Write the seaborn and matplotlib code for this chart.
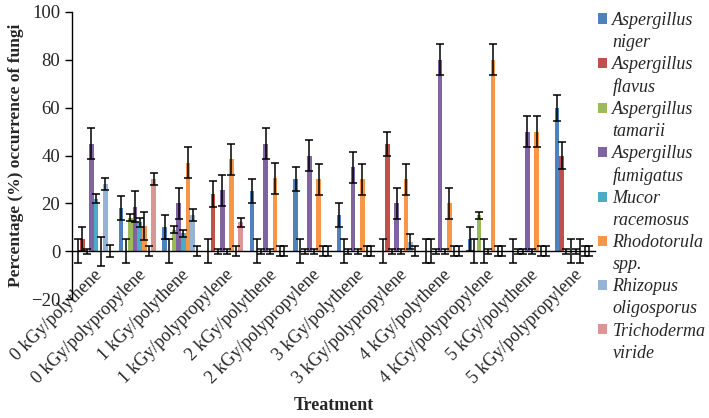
import numpy as np
import pandas as pd
import seaborn as sns
import matplotlib.pyplot as plt
from matplotlib.patches import Patch

treatments = ["0 kGy/polythene", "0 kGy/polypropylene", "1 kGy/polythene",
              "1 kGy/polypropylene", "2 kGy/polythene", "2 kGy/polypropylene",
              "3 kGy/polythene", "3 kGy/polypropylene", "4 kGy/polythene",
              "4 kGy/polypropylene", "5 kGy/polythene", "5 kGy/polypropylene"]

species = ["Aspergillus niger", "Aspergillus flavus", "Aspergillus tamarii",
           "Aspergillus fumigatus", "Mucor racemosus", "Rhodotorula spp.",
           "Rhizopus oligosporus", "Trichoderma viride"]

niger = [0, 18, 10, 0, 25, 30, 15, 0, 0, 5, 0, 60]
niger_err = [5, 5, 5, 5, 5, 5, 5, 5, 5, 5, 5, 5.5]
flavus = [5, 0, 0, 24, 0, 0, 0, 45, 0, 0, 0, 40]
flavus_err = [5, 5, 5, 5.5, 5, 5, 5, 5, 5, 5, 1, 5.5]
tamarii = [0, 14, 9, 0, 0, 0, 0, 0, 0, 15, 0, 0]
tamarii_err = [1, 1.5, 1.5, 1, 1, 1, 1, 1, 1, 1.5, 1, 1]
fumigatus = [45, 18.5, 20, 25.5, 45, 40, 35, 20, 80, 0, 50, 0]
fumigatus_err = [6.5, 6.5, 6.5, 6.5, 6.5, 6.5, 6.5, 6.5, 6.5, 5, 6.5, 5]
mucor = [22, 12, 7.5, 0, 0, 0, 0, 0, 0, 0, 0, 0]
mucor_err = [2, 2, 1.5, 1, 1, 1, 1, 1, 1, 1, 1, 1]
rhodotorula = [0, 10.5, 37, 38.5, 30.5, 30, 30, 30, 20, 80, 50, 0]
rhodotorula_err = [6, 6, 6.5, 6.5, 6.5, 6.5, 6.5, 6.5, 6.5, 6.5, 6.5, 5]
rhizopus = [28, 0, 15, 0, 0, 0, 0, 4, 0, 0, 0, 0]
rhizopus_err = [2.5, 2, 2.5, 2, 2, 2, 2, 3, 2, 2, 2, 2]
trichoderma = [0, 30, 0, 12, 0, 0, 0, 0, 0, 0, 0, 0]
trichoderma_err = [2.5, 2.5, 2, 2, 2, 2, 2, 2, 2, 2, 2, 2]

values = [niger, flavus, tamarii, fumigatus, mucor, rhodotorula, rhizopus, trichoderma]
errors = [niger_err, flavus_err, tamarii_err, fumigatus_err, mucor_err,
          rhodotorula_err, rhizopus_err, trichoderma_err]
colors = ["#4F81BD", "#C0504D", "#9BBB59", "#8064A2", "#4BACC6", "#F79646",
          "#95B3D7", "#D99694"]

rows = []
for sp, vals in zip(species, values):
    for t, v in zip(treatments, vals):
        rows.append({"Treatment": t, "Species": sp, "Value": v})
df = pd.DataFrame(rows)

sns.set_style("white")
plt.rcParams["font.family"] = ["Liberation Serif", "DejaVu Serif"]

W, H = 709, 418
fig = plt.figure(figsize=(W / 100, H / 100), dpi=100)
left, right, top, bottom = 72, 595, 12, 299
ax = fig.add_axes([left / W, 1 - bottom / H, (right - left) / W, (bottom - top) / H])

sns.barplot(data=df, x="Treatment", y="Value", hue="Species", order=treatments,
            hue_order=species, palette=colors, width=0.85, errorbar=None,
            saturation=1, linewidth=0, ax=ax, legend=False)

for cont, err in zip(ax.containers, errors):
    xs = [p.get_x() + p.get_width() / 2 for p in cont]
    ys = [p.get_height() for p in cont]
    ax.errorbar(xs, ys, yerr=err, fmt="none", ecolor="black", elinewidth=1.1,
                capsize=3.2, capthick=1.1, zorder=5)

ax.set_ylim(-20, 100)
ax.set_xlim(-0.5, len(treatments) - 0.5)
ax.set_yticks(range(-20, 101, 20))
for s in ["top", "right"]:
    ax.spines[s].set_visible(False)
ax.spines["bottom"].set_position(("data", 0))
ax.spines["bottom"].set_color("black")
ax.spines["left"].set_color("black")
ax.spines["bottom"].set_linewidth(1)
ax.spines["left"].set_linewidth(1)

ax.set_xticks(np.arange(-0.5, len(treatments), 1.0), minor=True)
ax.tick_params(axis="x", which="major", length=0, pad=11, labelsize=13)
ax.tick_params(axis="x", which="minor", length=4, width=1, direction="out", color="black")
ax.tick_params(axis="y", length=5, width=1, direction="out", color="black", labelsize=13.5, left=True)
plt.setp(ax.get_xticklabels(), rotation=45, ha="right", va="top", rotation_mode="anchor")

ax.set_ylabel("Percentage (%) occurrence of fungi", fontsize=12.5, fontweight="bold", labelpad=5)
ax.set_xlabel("Treatment", fontsize=13, fontweight="bold")
ax.xaxis.set_label_coords(0.5, -0.34)

handles, labels = [], []
for sp, c in zip(species, colors):
    first, second = sp.split(" ", 1)
    handles.append(Patch(facecolor=c, edgecolor="none"))
    labels.append(first)
    handles.append(Patch(facecolor="none", edgecolor="none"))
    labels.append(second)
ax.legend(handles, labels, loc="upper left", bbox_to_anchor=(598 / W, 1 - 12 / H),
          bbox_transform=fig.transFigure, frameon=False,
          prop={"style": "italic", "size": 13}, handlelength=0.5, handleheight=0.5,
          handletextpad=0.3, labelspacing=0.28, borderaxespad=0, borderpad=0)

fig.savefig("out.png", dpi=100)
